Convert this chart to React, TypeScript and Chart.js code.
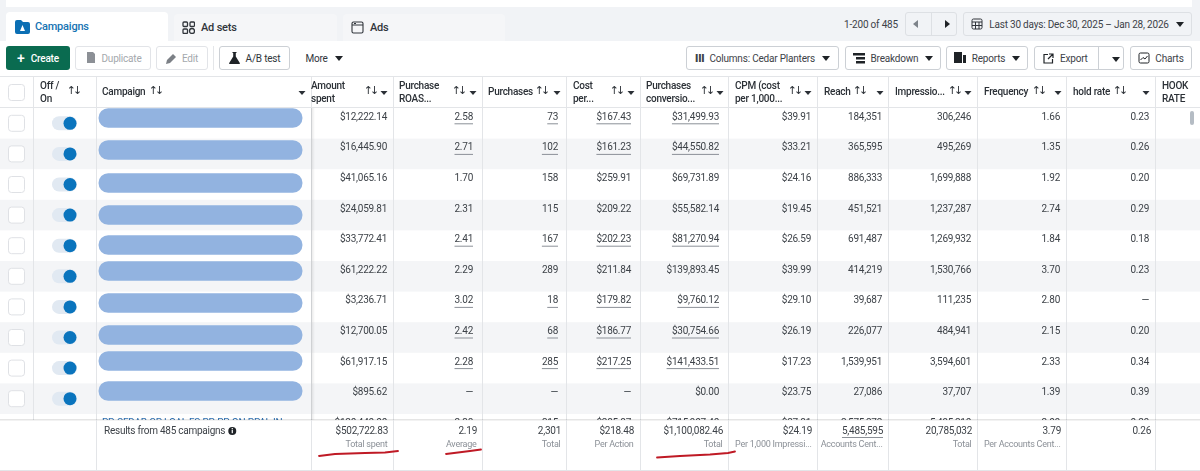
import { useEffect, useRef } from 'react'
import { Chart, registerables } from 'chart.js'

Chart.register(...registerables)

const FONT = 'Roboto, sans-serif'

// table values, one array per column
const rowNames = ['c1', 'c2', 'c3', 'c4', 'c5', 'c6', 'c7', 'c8', 'c9', 'c10', 'c11']
const campaignOn = [1, 1, 1, 1, 1, 1, 1, 1, 1, 1, 1]
const amountSpent = [12222.14, 16445.9, 41065.16, 24059.81, 33772.41, 61222.22, 3236.71, 12700.05, 61917.15, 895.62, 120440.0]
const purchaseRoas = [2.58, 2.71, 1.7, 2.31, 2.41, 2.29, 3.02, 2.42, 2.28, null, 2.38]
const purchases = [73, 102, 158, 115, 167, 289, 18, 68, 285, null, 315]
const costPer = [167.43, 161.23, 259.91, 209.22, 202.23, 211.84, 179.82, 186.77, 217.25, null, 285.87]
const conversionValue = [31499.93, 44550.82, 69731.89, 55582.14, 81270.94, 139893.45, 9760.12, 30754.66, 141433.51, 0, 715907.4]
const cpm = [39.91, 33.21, 24.16, 19.45, 26.59, 39.99, 29.1, 26.19, 17.23, 23.75, 27.81]
const reach = [184351, 365595, 886333, 451521, 691487, 414219, 39687, 226077, 1539951, 27086, 2575272]
const impressions = [306246, 495269, 1699888, 1237287, 1269932, 1530766, 111235, 484941, 3594601, 37707, 5495210]
const frequency = [1.66, 1.35, 1.92, 2.74, 1.84, 3.7, 2.8, 2.15, 2.33, 1.39, 2.09]
const holdRate = [0.23, 0.26, 0.2, 0.29, 0.18, 0.23, null, 0.2, 0.34, 0.39, 0.29]
const underlinedRows = [0, 1, 4, 6, 7, 8]

const headerLabels = [
  ['Off /', 'On'],
  ['Campaign'],
  ['Amount', 'spent'],
  ['Purchase', 'ROAS...'],
  ['Purchases'],
  ['Cost', 'per...'],
  ['Purchases', 'conversio...'],
  ['CPM (cost', 'per 1,000...'],
  ['Reach'],
  ['Impressio...'],
  ['Frequency'],
  ['hold rate'],
  ['HOOK', 'RATE'],
]
const footerTotals = ['$502,722.83', '2.19', '2,301', '$218.48', '$1,100,082.46', '$24.19', '5,485,595', '20,785,032', '3.79', '0.26']
const footerNotes = ['Total spent', 'Average', 'Total', 'Per Action', 'Total', 'Per 1,000 Impressi...', 'Accounts Cent...', 'Total', 'Per Accounts Cent...', '']

// layout of the table on the x axis
const columnEdges = [33, 96, 311, 393, 482, 566, 640, 728, 817, 888, 977, 1066, 1155]
const headerLeft = [40, 102, 311, 399, 488, 573, 646, 735, 824, 895, 984, 1073, 1162]
const arrowX = [73, 155, 370, 458, 541, 616, 706, 794, 859, 954, 1038, 1119, null]
const caretX = [null, 302, 384, 473, 557, 631, 720, 808, 880, 968, 1058, 1146, null]
const cellRight = [387, 473, 558, 631, 719, 811, 882, 971, 1060, 1149]
const footerRight = [388, 477, 561, 634, 723, 812, 883, 972, 1061, 1151]
const barOffsets = [-5.3, -3.9, -1.5, -0.1, -0.7, -5.3, -3.9, -2.5, -7.1, -7.7, 0]

const money = (v: number | null) =>
  v === null ? '—' : '$' + v.toLocaleString('en-US', { minimumFractionDigits: 2, maximumFractionDigits: 2 })
const dec = (v: number | null) => (v === null ? '—' : v.toFixed(2))
const int = (v: number | null) => (v === null ? '—' : v.toLocaleString('en-US'))

const columns: string[][] = [
  amountSpent.map(money),
  purchaseRoas.map(dec),
  purchases.map(int),
  costPer.map(money),
  conversionValue.map(money),
  cpm.map(money),
  reach.map(int),
  impressions.map(int),
  frequency.map(dec),
  holdRate.map(dec),
]
const underlinedColumns = [1, 2, 3, 4]

const tablePlugin = {
  id: 'table',
  beforeDatasetsDraw(chart: any) {
    const { ctx, scales } = chart
    const x = scales.x
    const y = scales.y
    const rowH = y.getPixelForValue(1) - y.getPixelForValue(0)
    ctx.save()
    ctx.letterSpacing = '-0.25px'
    rowNames.forEach((name, i) => {
      const cy = y.getPixelForValue(i)
      if (i % 2 === 1) {
        ctx.fillStyle = '#f4f5f7'
        ctx.fillRect(0, cy - rowH / 2, 1200, rowH)
      }
    })
    ctx.strokeStyle = '#e3e5e8'
    ctx.lineWidth = 1
    columnEdges.forEach((edge) => {
      const px = Math.round(x.getPixelForValue(edge)) + 0.5
      ctx.beginPath()
      ctx.moveTo(px, 76)
      ctx.lineTo(px, 420)
      ctx.stroke()
    })
    rowNames.forEach((name, i) => {
      const cy = y.getPixelForValue(i)
      // checkbox
      ctx.fillStyle = '#fff'
      ctx.strokeStyle = '#dfe1e5'
      ctx.beginPath()
      ctx.roundRect(x.getPixelForValue(8.5), cy - 8, 16, 16, 3)
      ctx.fill()
      ctx.stroke()
      // toggle track
      ctx.fillStyle = '#e1e9f2'
      ctx.beginPath()
      ctx.roundRect(x.getPixelForValue(52), cy - 7, 25, 14, 7)
      ctx.fill()
      // name redaction
      if (i < 10) {
        ctx.fillStyle = '#92b3e0'
        ctx.beginPath()
        ctx.roundRect(x.getPixelForValue(98.5), cy + barOffsets[i] - 9.75, 204, 19.5, 9.7)
        ctx.fill()
      }
      // cells
      ctx.font = `10px ${FONT}`
      ctx.textAlign = 'right'
      ctx.textBaseline = 'middle'
      const ty = cy - 6
      columns.forEach((col, c) => {
        const text = col[i]
        const right = x.getPixelForValue(cellRight[c])
        ctx.fillStyle = '#3d4248'
        ctx.fillText(text, right, ty)
        if (underlinedColumns.includes(c) && underlinedRows.includes(i)) {
          const w = ctx.measureText(text).width
          ctx.strokeStyle = '#8b9097'
          ctx.beginPath()
          ctx.moveTo(right - w, ty + 6.5)
          ctx.lineTo(right, ty + 6.5)
          ctx.stroke()
        }
      })
    })
    // clipped link of the row under the footer
    ctx.textAlign = 'left'
    ctx.fillStyle = '#2d6fb0'
    ctx.fillText('PP-CEDAR-GP LOAL FS-PP-PP-ON-PPAL IN', x.getPixelForValue(102), y.getPixelForValue(10) - 6)
    // pinned column shadow
    const g = ctx.createLinearGradient(311, 0, 315, 0)
    g.addColorStop(0, 'rgba(0,0,0,0.10)')
    g.addColorStop(1, 'rgba(0,0,0,0)')
    ctx.fillStyle = g
    ctx.fillRect(311, 76, 4, 344)
    ctx.restore()
  },
  afterDatasetsDraw(chart: any) {
    const { ctx, scales } = chart
    const x = scales.x
    ctx.save()
    ctx.letterSpacing = '-0.25px'
    // header row
    ctx.fillStyle = '#fff'
    ctx.fillRect(0, 76, 1200, 31)
    ctx.strokeStyle = '#e3e5e8'
    ctx.beginPath()
    ctx.moveTo(0, 76.5)
    ctx.lineTo(1200, 76.5)
    ctx.moveTo(0, 107.5)
    ctx.lineTo(1200, 107.5)
    columnEdges.forEach((edge) => {
      const px = Math.round(x.getPixelForValue(edge)) + 0.5
      ctx.moveTo(px, 76)
      ctx.lineTo(px, 107)
    })
    ctx.stroke()
    ctx.fillStyle = '#fff'
    ctx.strokeStyle = '#dfe1e5'
    ctx.beginPath()
    ctx.roundRect(8.5, 84.5, 16, 16, 3)
    ctx.fill()
    ctx.stroke()
    ctx.textBaseline = 'middle'
    ctx.textAlign = 'left'
    headerLabels.forEach((lines, c) => {
      const left = x.getPixelForValue(headerLeft[c])
      ctx.font = `500 10px ${FONT}`
      ctx.fillStyle = '#2b3036'
      lines.forEach((line, l) => {
        const ly = lines.length === 1 ? 92 : 86 + l * 13
        ctx.fillText(line, left, ly)
      })
      const ax = arrowX[c]
      if (ax !== null) {
        ctx.font = `11px "DejaVu Sans", sans-serif`
        ctx.letterSpacing = '-3px'
        ctx.textAlign = 'center'
        ctx.fillText('↑↓', x.getPixelForValue(ax), 91)
        ctx.letterSpacing = '-0.25px'
        ctx.textAlign = 'left'
      }
      const cx = caretX[c]
      if (cx !== null) {
        const px = x.getPixelForValue(cx)
        ctx.beginPath()
        ctx.moveTo(px - 3.5, 91)
        ctx.lineTo(px + 3.5, 91)
        ctx.lineTo(px, 95)
        ctx.closePath()
        ctx.fill()
      }
    })
    // scrollbar thumb
    ctx.fillStyle = '#b5bcc4'
    ctx.beginPath()
    ctx.roundRect(1190, 111, 4, 14, 2)
    ctx.fill()
    // footer
    ctx.fillStyle = '#fff'
    ctx.fillRect(0, 420, 1200, 51)
    ctx.fillStyle = 'rgba(0,0,0,0.10)'
    ctx.fillRect(0, 419, 1200, 1.5)
    ctx.strokeStyle = '#e3e5e8'
    ctx.beginPath()
    ctx.moveTo(0, 470.5)
    ctx.lineTo(1200, 470.5)
    columnEdges.slice(1).forEach((edge) => {
      const px = Math.round(x.getPixelForValue(edge)) + 0.5
      ctx.moveTo(px, 420)
      ctx.lineTo(px, 471)
    })
    ctx.stroke()
    ctx.font = `10px ${FONT}`
    ctx.fillStyle = '#3d4248'
    ctx.textAlign = 'left'
    const results = 'Results from 485 campaigns'
    ctx.fillText(results, x.getPixelForValue(104), 431)
    const infoX = x.getPixelForValue(104) + ctx.measureText(results).width + 7
    ctx.fillStyle = '#1f2327'
    ctx.beginPath()
    ctx.arc(infoX, 431, 4, 0, Math.PI * 2)
    ctx.fill()
    ctx.fillStyle = '#fff'
    ctx.fillRect(infoX - 0.6, 429.8, 1.2, 3.4)
    ctx.fillRect(infoX - 0.6, 428, 1.2, 1.2)
    ctx.textAlign = 'right'
    footerTotals.forEach((total, c) => {
      const right = x.getPixelForValue(footerRight[c])
      ctx.font = `10px ${FONT}`
      ctx.fillStyle = '#3d4248'
      ctx.fillText(total, right, 431)
      if (c === 6) {
        const w = ctx.measureText(total).width
        ctx.strokeStyle = '#8b9097'
        ctx.beginPath()
        ctx.moveTo(right - w, 437.5)
        ctx.lineTo(right, 437.5)
        ctx.stroke()
      }
      ctx.font = `9px ${FONT}`
      ctx.fillStyle = '#8b9097'
      ctx.fillText(footerNotes[c], right - 0.5, 445)
    })
    // red hand-drawn underlines
    ctx.strokeStyle = '#bf1a25'
    ctx.lineWidth = 1.8
    ctx.lineCap = 'round'
    const strokes = [
      [[319, 456], [335, 454], [365, 453], [385, 452.5], [398, 451]],
      [[446, 454], [458, 452.5], [470, 451], [481, 449.5]],
      [[657, 457.5], [680, 456], [710, 454.5], [728, 453], [735, 451.5]],
    ]
    strokes.forEach((pts) => {
      ctx.beginPath()
      pts.forEach(([px, py], i) => {
        const sx = x.getPixelForValue(px)
        if (i === 0) ctx.moveTo(sx, py)
        else ctx.lineTo(sx, py)
      })
      ctx.stroke()
    })
    ctx.restore()
  },
}

const box = (left: number, top: number, width: number, height: number, extra: any = {}) => ({
  position: 'absolute' as const,
  left,
  top,
  width,
  height,
  boxSizing: 'border-box' as const,
  display: 'flex',
  alignItems: 'center',
  justifyContent: 'center',
  whiteSpace: 'nowrap' as const,
  ...extra,
})

const btn = { border: '1px solid #ccd0d5', borderRadius: 3, background: '#fff', color: '#3d4248' }
const tabText = { fontWeight: 500, fontSize: 11 }
const Caret = ({ color = '#1f2327' }: { color?: string }) => (
  <span style={{ display: 'inline-block', marginLeft: 7, borderLeft: '4px solid transparent', borderRight: '4px solid transparent', borderTop: `5px solid ${color}` }} />
)

const Toolbar = () => (
  <div style={{ position: 'absolute', left: 0, top: 0, width: 1200, height: 76, fontFamily: FONT, fontSize: 10, letterSpacing: '-0.2px', background: '#fff' }}>
    <div style={box(0, 0, 1200, 41, { background: '#f1f3f6' })} />
    <div style={box(6, 0, 1186, 7, { background: '#fff' })} />
    <div style={box(6, 12, 162, 29, { background: '#fff', borderRadius: '4px 4px 0 0', justifyContent: 'flex-start', paddingLeft: 9, color: '#1673b3', ...tabText })}>
      <svg width="15" height="14" style={{ marginRight: 5 }}>
        <path d="M0 2 a2 2 0 0 1 2-2 h4 l2 2 h5 a2 2 0 0 1 2 2 v8 a2 2 0 0 1-2 2 h-11 a2 2 0 0 1-2-2z" fill="#0b6fb4" />
        <path d="M7.5 5 l2.5 6 h-5z" fill="#fff" />
      </svg>
      Campaigns
    </div>
    <div style={box(174, 14, 163, 27, { background: '#f5f6f8', borderRadius: '4px 4px 0 0', justifyContent: 'flex-start', paddingLeft: 8, color: '#30353b', ...tabText })}>
      <svg width="13" height="13" style={{ marginRight: 6 }} fill="none" stroke="#30353b" strokeWidth="1.3">
        <rect x="1" y="1" width="4.5" height="4.5" rx="1" />
        <rect x="8" y="1" width="4.5" height="4.5" rx="1" />
        <rect x="1" y="8" width="4.5" height="4.5" rx="1" />
        <circle cx="10" cy="10" r="2.5" />
      </svg>
      Ad sets
    </div>
    <div style={box(343, 14, 162, 27, { background: '#f5f6f8', borderRadius: '4px 4px 0 0', justifyContent: 'flex-start', paddingLeft: 8, color: '#30353b', ...tabText })}>
      <svg width="13" height="13" style={{ marginRight: 6 }} fill="none" stroke="#30353b" strokeWidth="1.1">
        <rect x="1" y="1" width="11" height="11" rx="1.5" />
        <path d="M1 4 h11 M3 2.5 h2" />
      </svg>
      Ads
    </div>
    <div style={box(842, 12, 58, 24, { color: '#3d4248' })}>1-200 of 485</div>
    <div style={box(905, 12, 52, 24, { ...btn, background: '#f1f3f6', borderColor: '#dde0e4', justifyContent: 'space-around' })}>
      <span style={{ borderTop: '4px solid transparent', borderBottom: '4px solid transparent', borderRight: '5px solid #7d838a' }} />
      <span style={{ width: 1, height: 22, background: '#dde0e4' }} />
      <span style={{ borderTop: '4px solid transparent', borderBottom: '4px solid transparent', borderLeft: '5px solid #1f2327' }} />
    </div>
    <div style={box(963, 12, 229, 24, { ...btn, background: '#f1f3f6', borderColor: '#dde0e4' })}>
      <svg width="12" height="12" style={{ marginRight: 6 }} fill="none" stroke="#30353b">
        <rect x="1" y="1" width="10" height="10" rx="1.5" />
        <path d="M1 4 h10 M1 7.5 h10 M4.5 4 v7 M8 4 v7" />
      </svg>
      Last 30 days: Dec 30, 2025 – Jan 28, 2026
      <Caret />
    </div>

    <div style={box(6, 46, 64, 24, { background: '#0a6b50', borderRadius: 3, color: '#fff', fontWeight: 500 })}>
      <span style={{ fontSize: 14, marginRight: 6, lineHeight: '10px' }}>+</span>Create
    </div>
    <div style={box(75, 46, 76, 24, { ...btn, borderColor: '#e2e4e8', color: '#a4a8ad' })}>
      <svg width="12" height="12" style={{ marginRight: 5 }} fill="#8c9096"><path d="M3 0 h6 l2 2 v9 h-8z" /></svg>
      Duplicate
    </div>
    <div style={box(156, 46, 52, 24, { ...btn, borderColor: '#e2e4e8', color: '#a4a8ad' })}>
      <svg width="11" height="11" style={{ marginRight: 5 }} fill="#7c8086"><path d="M0 11 l1-4 l6-6 l3 3 l-6 6z" /></svg>
      Edit
    </div>
    <div style={box(213, 46, 1, 24, { background: '#e4e6e9' })} />
    <div style={box(219, 46, 71, 24, { ...btn, color: '#30353b' })}>
      <svg width="11" height="12" style={{ marginRight: 6 }} fill="#1f2327"><path d="M3.5 0 h4 v1 h-.7 v3.5 l4 6.5 v1 h-10.6 v-1 l4-6.5 v-3.5 h-.7z" /></svg>
      A/B test
    </div>
    <div style={box(304, 46, 40, 24, { color: '#30353b' })}>More<Caret /></div>

    <div style={box(686, 46, 153, 24, btn)}>
      <span style={{ fontWeight: 900, marginRight: 5, fontSize: 11 }}>III</span>Columns: Cedar Planters<Caret />
    </div>
    <div style={box(845, 46, 96, 24, btn)}>
      <svg width="12" height="11" style={{ marginRight: 6 }} fill="#1f2327"><path d="M0 0 h12 v2.5 h-12z M3 4 h9 v2.5 h-9z M3 8 h9 v2.5 h-9z" /></svg>
      Breakdown<Caret />
    </div>
    <div style={box(946, 46, 82, 24, btn)}>
      <svg width="12" height="12" style={{ marginRight: 6 }} fill="#1f2327"><path d="M0 0 h8 v11 h-8z M9 3 h3 v8 h-3z" /></svg>
      Reports<Caret />
    </div>
    <div style={box(1034, 46, 90, 24, { ...btn, justifyContent: 'flex-start', paddingLeft: 8 })}>
      <svg width="11" height="11" style={{ marginRight: 6 }} fill="none" stroke="#1f2327" strokeWidth="1.2"><path d="M5 1.5 h-4 v8.5 h8.5 v-4 M6 1 h4 v4 M10 1 l-5 5" /></svg>
      Export
      <span style={{ position: 'absolute', left: 63, top: 0, width: 1, height: 22, background: '#ccd0d5' }} />
      <span style={{ position: 'absolute', left: 70 }}><Caret /></span>
    </div>
    <div style={box(1130, 46, 62, 24, btn)}>
      <svg width="12" height="12" style={{ marginRight: 5 }} fill="none" stroke="#1f2327"><rect x="1" y="1" width="10" height="10" rx="1.5" /><path d="M2.5 8 l2.5-2.5 l2 1.5 l2.5-3" /></svg>
      Charts
    </div>
  </div>
)

const App = () => {
  const chartRef = useRef<HTMLCanvasElement>(null)

  useEffect(() => {
    if (!chartRef.current) return
    const chart = new Chart(chartRef.current, {
      type: 'scatter',
      data: {
        labels: rowNames,
        datasets: [
          {
            label: 'On',
            data: campaignOn.map((on, i) => ({ x: on ? 70 : 59, y: rowNames[i] })) as any,
            backgroundColor: '#0a74bd',
            borderWidth: 0,
            pointRadius: 6.5,
          },
        ],
      },
      options: {
        responsive: false,
        animation: false,
        layout: { autoPadding: false, padding: { left: 0, right: 0, top: 108, bottom: 471 - 108 - 30.6 * rowNames.length } },
        plugins: { legend: { display: false }, tooltip: { enabled: false } },
        scales: {
          x: { type: 'linear', min: 0, max: 1200, display: false },
          y: { type: 'category', labels: rowNames, offset: true, display: false },
        },
      },
      plugins: [tablePlugin],
    })
    return () => chart.destroy()
  }, [])

  return (
    <div style={{ position: 'absolute', left: 0, top: 0, width: 1200, height: 471, background: '#fff', overflow: 'hidden' }}>
      <canvas ref={chartRef} width={1200} height={471} style={{ position: 'absolute', left: 0, top: 0 }} />
      <Toolbar />
    </div>
  )
}

export default App
